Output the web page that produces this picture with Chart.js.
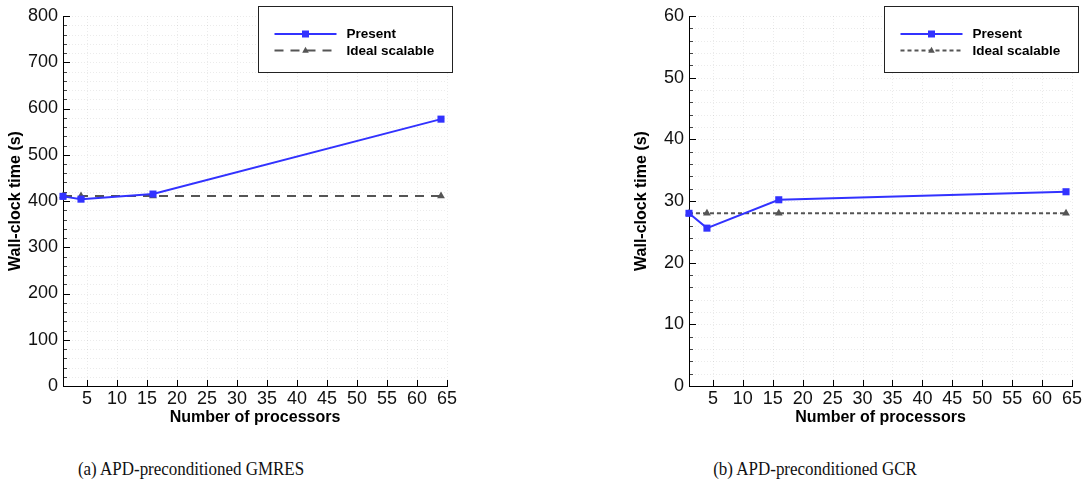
<!DOCTYPE html>
<html>
<head>
<meta charset="utf-8">
<script src="https://cdn.jsdelivr.net/npm/chart.js@4.4.1/dist/chart.umd.min.js"></script>
<style>
  body { margin: 0; background: #fff; width: 1090px; height: 490px; position: relative; overflow: hidden; }
  .panel { position: absolute; top: 0; height: 430px; }
  .caption { position: absolute; top: 458px; transform: translateX(-50%) scaleX(0.87); white-space: nowrap;
             font-family: "Liberation Serif", "DejaVu Serif", serif; font-size: 19.5px; color: #111; }
</style>
</head>
<body>
<div class="panel" style="left:0;width:470px"><canvas id="gmres"></canvas></div>
<div class="panel" style="left:626px;width:464px"><canvas id="gcr"></canvas></div>
<div class="caption" style="left:191px">(a) APD-preconditioned GMRES</div>
<div class="caption" style="left:815px">(b) APD-preconditioned GCR</div>

<script>
// processor counts and wall-clock times (s)
const procs = [1, 4, 16, 64];
const gmresPresent = [410, 404, 415, 577];
const gmresIdeal = [411, 411, 411, 411];
const gcrPresent = [28.0, 25.6, 30.2, 31.5];
const gcrIdeal = [28, 28, 28, 28];

const seriesNames = ['Present', 'Ideal scalable'];
const xTitle = 'Number of processors';
const yTitle = 'Wall-clock time (s)';

const BLUE = '#3232ff';
const GREY = '#555555';
const SANS = '"Liberation Sans", Arial, sans-serif';

function line(ctx, x1, y1, x2, y2) {
    ctx.beginPath();
    ctx.moveTo(x1, y1);
    ctx.lineTo(x2, y2);
    ctx.stroke();
}

function marker(ctx, style, r, x, y, color) {
    ctx.fillStyle = color;
    ctx.beginPath();
    if (style === 'rect') {
        ctx.rect(x - r, y - r, 2 * r, 2 * r);
    } else {
        ctx.moveTo(x, y - r * 1.1);
        ctx.lineTo(x + r, y + r * 0.7);
        ctx.lineTo(x - r, y + r * 0.7);
        ctx.closePath();
    }
    ctx.fill();
}

// dotted grid, inward tick marks, axis lines and the boxed legend
const frame = {
    id: 'frame',
    beforeDatasetsDraw(chart, args, opts) {
        const { ctx, chartArea: a, scales: { x, y } } = chart;
        ctx.save();
        ctx.lineWidth = 1;
        ctx.strokeStyle = 'rgba(0,0,0,0.08)';
        ctx.setLineDash([1, 2]);
        const n = Math.round(y.max / opts.minor);
        for (let i = 1; i <= n; i++) {
            const py = Math.round(y.getPixelForValue(i * opts.minor)) + 0.5;
            line(ctx, a.left, py, a.right, py);
        }
        x.ticks.forEach(t => {
            const px = Math.round(x.getPixelForValue(t.value)) + 0.5;
            line(ctx, px, a.top, px, a.bottom);
        });
        ctx.setLineDash([]);

        const per = Math.round(opts.major / opts.minor);
        for (let i = 0; i <= n; i++) {
            const py = Math.round(y.getPixelForValue(i * opts.minor)) + 0.5;
            const major = i % per === 0;
            ctx.strokeStyle = major ? '#000' : '#444';
            line(ctx, a.left, py, a.left + (major ? 7 : 4), py);
        }
        ctx.strokeStyle = '#000';
        x.ticks.forEach(t => {
            const px = Math.round(x.getPixelForValue(t.value)) + 0.5;
            line(ctx, px, a.bottom, px, a.bottom - 6);
        });
        const L = Math.round(a.left) + 0.5, B = Math.round(a.bottom) + 0.5;
        line(ctx, L, Math.round(a.top), L, B);
        line(ctx, L, B, Math.round(a.right) + 1, B);
        ctx.restore();
    },
    afterDraw(chart) {
        const { ctx, chartArea: a } = chart;
        const bx = Math.round(a.left) + 195.5, by = 6.5, bw = 194, bh = 66;
        ctx.save();
        ctx.fillStyle = '#fff';
        ctx.fillRect(bx, by, bw, bh);
        ctx.strokeStyle = '#222';
        ctx.lineWidth = 1;
        ctx.strokeRect(bx, by, bw, bh);
        chart.data.datasets.forEach((ds, i) => {
            const ly = by + 27.5 + i * 16.5;
            ctx.strokeStyle = ds.borderColor;
            ctx.lineWidth = ds.borderWidth;
            ctx.setLineDash(ds.borderDash || []);
            line(ctx, bx + 16, ly, bx + 78, ly);
            ctx.setLineDash([]);
            marker(ctx, ds.pointStyle, ds.pointStyle === 'rect' ? 3.5 : 3.3, bx + 47, ly, ds.pointBackgroundColor);
            ctx.fillStyle = '#000';
            ctx.font = 'bold 13.5px ' + SANS;
            ctx.textBaseline = 'middle';
            ctx.fillText(ds.label, bx + 88, ly + 0.5);
        });
        ctx.restore();
    }
};

function makePanel(id, present, ideal, yMax, yStep, yMinor, idealDash, padRight) {
    const pts = vals => procs.map((p, i) => ({ x: p, y: vals[i] }));
    new Chart(document.getElementById(id), {
        type: 'line',
        data: {
            datasets: [{
                label: seriesNames[0],
                data: pts(present),
                borderColor: BLUE,
                borderWidth: 2,
                pointStyle: 'rect',
                pointRadius: 5,
                pointBackgroundColor: BLUE,
                pointBorderWidth: 0,
                tension: 0,
                clip: false
            }, {
                label: seriesNames[1],
                data: pts(ideal),
                borderColor: GREY,
                borderWidth: 2,
                borderDash: idealDash,
                pointStyle: 'triangle',
                pointRadius: 4.5,
                pointBackgroundColor: GREY,
                pointBorderWidth: 0,
                tension: 0,
                clip: false
            }]
        },
        options: {
            responsive: true,
            maintainAspectRatio: false,
            animation: false,
            layout: { padding: { top: 16, right: padRight, left: 0, bottom: 0 } },
            plugins: {
                legend: { display: false },
                tooltip: { enabled: false },
                frame: { major: yStep, minor: yMinor }
            },
            scales: {
                x: {
                    type: 'linear',
                    min: 1,
                    max: 65,
                    grid: { display: false, drawTicks: false },
                    border: { display: false },
                    afterBuildTicks: s => { s.ticks = s.ticks.filter(t => t.value % 5 === 0); },
                    afterFit: s => { s.height = 44; },
                    ticks: {
                        stepSize: 5,
                        autoSkip: false,
                        maxRotation: 0,
                        padding: 2,
                        color: '#111',
                        font: { family: SANS, size: 18 }
                    },
                    title: {
                        display: true,
                        text: xTitle,
                        color: '#000',
                        padding: { top: 0, bottom: 3 },
                        font: { family: SANS, size: 16, weight: 'bold' }
                    }
                },
                y: {
                    min: 0,
                    max: yMax,
                    grid: { display: false, drawTicks: false },
                    border: { display: false },
                    afterFit: s => { s.width = 63; },
                    ticks: {
                        stepSize: yStep,
                        padding: 5,
                        color: '#111',
                        font: { family: SANS, size: 18 }
                    },
                    title: {
                        display: true,
                        text: yTitle,
                        color: '#000',
                        padding: { top: 6, bottom: 0 },
                        font: { family: SANS, size: 16, weight: 'bold' }
                    }
                }
            }
        },
        plugins: [frame]
    });
}

makePanel('gmres', gmresPresent, gmresIdeal, 800, 100, 20, [9, 7], 23);
makePanel('gcr', gcrPresent, gcrIdeal, 60, 10, 2, [4, 3], 18);
</script>
</body>
</html>
